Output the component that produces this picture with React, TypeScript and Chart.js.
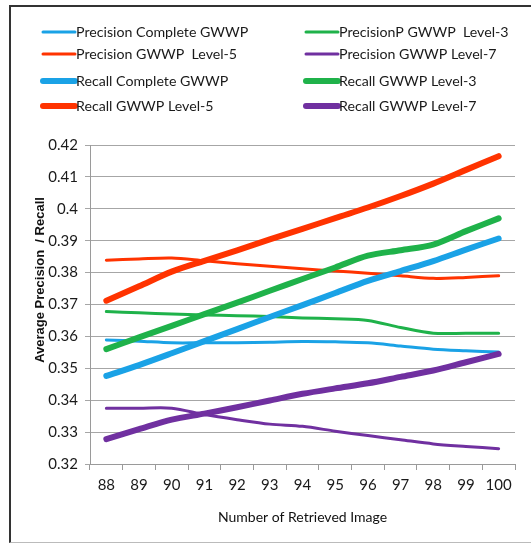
import React, { useEffect, useRef } from "react";
import { Chart, registerables } from "chart.js";

Chart.register(...registerables);

const labels = ["88", "89", "90", "91", "92", "93", "94", "95", "96", "97", "98", "99", "100"];

const precisionComplete = [0.3589, 0.3585, 0.358, 0.358, 0.358, 0.3582, 0.3584, 0.3583, 0.358, 0.357, 0.356, 0.3555, 0.3551];
const precisionL3 = [0.3678, 0.3674, 0.367, 0.3667, 0.3665, 0.3662, 0.3658, 0.3655, 0.365, 0.3628, 0.361, 0.361, 0.361];
const precisionL5 = [0.3839, 0.3843, 0.3846, 0.3837, 0.3828, 0.382, 0.3812, 0.3805, 0.3798, 0.379, 0.3782, 0.3785, 0.379];
const precisionL7 = [0.3375, 0.3375, 0.3375, 0.3355, 0.3339, 0.3325, 0.3318, 0.3303, 0.3289, 0.3276, 0.3263, 0.3255, 0.3248];
const recallComplete = [0.3476, 0.351, 0.3547, 0.3585, 0.3623, 0.3661, 0.3698, 0.3736, 0.3774, 0.3805, 0.3836, 0.3872, 0.3907];
const recallL3 = [0.356, 0.3597, 0.3633, 0.367, 0.3706, 0.3743, 0.378, 0.3816, 0.3853, 0.387, 0.3888, 0.393, 0.397];
const recallL5 = [0.3712, 0.3757, 0.3803, 0.3837, 0.387, 0.3904, 0.3937, 0.3971, 0.4004, 0.404, 0.4079, 0.4122, 0.4165];
const recallL7 = [0.3278, 0.3309, 0.3339, 0.3358, 0.3378, 0.3399, 0.342, 0.3437, 0.3453, 0.3473, 0.3493, 0.3519, 0.3545];

const seriesNames = [
  "Precision Complete GWWP",
  "PrecisionP GWWP  Level-3",
  "Precision GWWP  Level-5",
  "Precision GWWP Level-7",
  "Recall Complete GWWP",
  "Recall GWWP Level-3",
  "Recall GWWP Level-5",
  "Recall GWWP Level-7",
];

const BLUE = "#1AA2E6";
const GREEN = "#1FB24A";
const RED = "#FF3300";
const PURPLE = "#7030A0";

const FONT = "Lato, 'Open Sans', sans-serif";

const legendPlugin = {
  id: "customLegend",
  afterDraw(chart: any) {
    const ctx = chart.ctx;
    ctx.save();
    const cols = [
      { x0: 32, x1: 64, tx: 65 },
      { x0: 295, x1: 327, tx: 328 },
    ];
    const rows = [25, 47, 74, 99];
    chart.data.datasets.forEach((ds: any, i: number) => {
      const c = cols[i % 2];
      const y = rows[Math.floor(i / 2)];
      ctx.beginPath();
      ctx.strokeStyle = ds.borderColor;
      ctx.lineWidth = ds.borderWidth;
      ctx.lineCap = "round";
      ctx.moveTo(c.x0, y);
      ctx.lineTo(c.x1, y);
      ctx.stroke();
      ctx.fillStyle = "#1a1a1a";
      ctx.font = "14.2px " + FONT;
      ctx.textAlign = "left";
      ctx.textBaseline = "middle";
      ctx.fillText(ds.label, c.tx, y);
    });
    // y axis title
    ctx.translate(29, 273);
    ctx.rotate(-Math.PI / 2);
    ctx.font = "bold 13px 'Liberation Sans', Arial, sans-serif";
    ctx.textAlign = "center";
    ctx.textBaseline = "middle";
    ctx.fillStyle = "#111";
    ctx.fillText("Average Precision  / Recall", 0, 0);
    ctx.restore();
  },
};

export default function App() {
  const ref = useRef<HTMLCanvasElement>(null);
  useEffect(() => {
    if (!ref.current) return;
    const mk = (label: string, data: number[], color: string, width: number, order: number) => ({
      label,
      data,
      borderColor: color,
      backgroundColor: color,
      borderWidth: width,
      pointRadius: 0,
      tension: 0.3,
      fill: false,
      order,
      borderCapStyle: "round" as const,
    });
    const chart = new Chart(ref.current, {
      type: "line",
      data: {
        labels,
        datasets: [
          mk(seriesNames[0], precisionComplete, BLUE, 3, 2),
          mk(seriesNames[1], precisionL3, GREEN, 3, 2),
          mk(seriesNames[2], precisionL5, RED, 3, 2),
          mk(seriesNames[3], precisionL7, PURPLE, 3, 2),
          mk(seriesNames[4], recallComplete, BLUE, 6, 1),
          mk(seriesNames[5], recallL3, GREEN, 6, 1),
          mk(seriesNames[6], recallL5, RED, 6, 1),
          mk(seriesNames[7], recallL7, PURPLE, 6, 1),
        ],
      },
      options: {
        animation: false,
        responsive: false,
        devicePixelRatio: 1,
        layout: { padding: { top: 138, right: 16, left: 0, bottom: 0 } },
        plugins: {
          legend: { display: false },
          tooltip: { enabled: false },
        },
        scales: {
          x: {
            type: "category",
            offset: true,
            grid: {
              display: true,
              offset: true,
              drawOnChartArea: false,
              drawTicks: true,
              tickLength: 6,
              color: "#9a9a9a",
            },
            border: { display: true, color: "#9a9a9a", width: 1 },
            ticks: {
              color: "#1a1a1a",
              font: { family: FONT, size: 15 },
              padding: 6,
              maxRotation: 0,
              autoSkip: false,
            },
            title: {
              display: true,
              text: "Number of Retrieved Image",
              color: "#111",
              font: { family: FONT, size: 14 },
              padding: { top: 0, bottom: 16 },
            },
            afterFit: (s: any) => {
              s.height = 78;
            },
          },
          y: {
            min: 0.32,
            max: 0.42,
            ticks: {
              stepSize: 0.01,
              color: "#1a1a1a",
              font: { family: FONT, size: 15 },
              padding: 7,
              callback: (v: any) => String(Number(Number(v).toFixed(2))),
            },
            grid: {
              color: "#a6a6a6",
              tickLength: 5,
              drawTicks: true,
            },
            border: { display: true, color: "#9a9a9a", width: 1 },
            afterFit: (s: any) => {
              s.width = 79;
            },
          },
        },
      },
      plugins: [legendPlugin],
    });
    return () => chart.destroy();
  }, []);
  return (
    <div
      style={{
        position: "absolute",
        left: 9,
        top: 5,
        width: 522,
        borderTop: "2px solid #333",
        borderLeft: "2px solid #333",
        borderBottom: "1px solid #bbb",
        background: "#fff",
      }}
    >
      <canvas ref={ref} width={520} height={535} style={{ display: "block" }} />
    </div>
  );
}
